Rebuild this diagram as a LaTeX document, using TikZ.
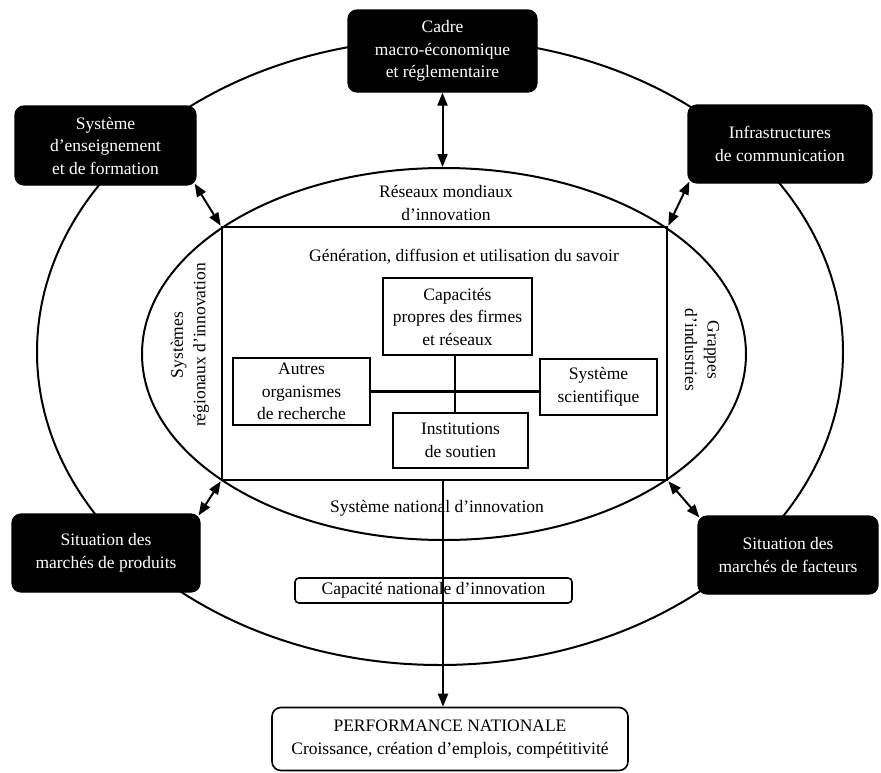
\documentclass[tikz,border=0pt]{standalone}
\usepackage{fontspec}
\setmainfont{Liberation Serif}
\usetikzlibrary{arrows.meta,shapes.geometric}
\begin{document}
\begin{tikzpicture}[x=1pt,y=-1pt,
  txt/.style={font=\fontsize{17.5}{22.5}\selectfont, align=center, inner sep=0pt},
  darkbox/.style={txt, draw=black, fill=black, text=white, rounded corners=9pt, line width=1.2pt},
  plainbox/.style={txt, draw=black, line width=2.2pt},
  ring/.style={draw=black, ellipse, line width=2pt, inner sep=0pt},
  dbl/.style={line width=2pt, {Triangle[length=13pt,width=10pt]}-{Triangle[length=13pt,width=10pt]}},
  one/.style={line width=2pt, -{Triangle[length=13pt,width=10pt]}}
]
\useasboundingbox (0,0) rectangle (881,772);

% the two rings: national capacity (outer) and national system (inner)
\node[ring, minimum width=806pt, minimum height=626pt] (outer) at (440,352) {};
\node[ring, minimum width=604pt, minimum height=372pt] (inner) at (444,354) {};

% knowledge box
\node[plainbox, line width=2.6pt, minimum width=445pt, minimum height=253pt] (sav) at (444.5,353.5) {};
\node[txt] (savt) at (464,257) {Génération, diffusion et utilisation du savoir};

% actors inside the knowledge box
\node[plainbox, minimum width=149pt, minimum height=77pt] (cap) at (457.5,316.5) {Capacités\\propres des firmes\\et réseaux};
\node[plainbox, minimum width=137pt, minimum height=67pt] (aut) at (301.5,391.5) {Autres\\organismes\\de recherche};
\node[plainbox, minimum width=117pt, minimum height=56pt] (sci) at (598.5,387) {Système\\scientifique};
\node[plainbox, minimum width=135pt, minimum height=55pt] (ins) at (460.5,440.5) {Institutions\\de soutien};

\draw[line width=2.2pt] (cap.south -| 455,0) -- (455,0 |- ins.north);
\draw[line width=2.2pt] (aut.east) -- (aut.east -| sci.west);

% labels on the inner ring
\node[txt] (rmi) at (446,203) {Réseaux mondiaux\\d’innovation};
\node[txt] (sni) at (437,508) {Système national d’innovation};
\node[txt, rotate=90] (sri) at (190,345) {Systèmes\\régionaux d’innovation};
\node[txt, rotate=-90] (gri) at (702,350) {Grappes\\d’industries};

% surrounding framework conditions
\node[darkbox, minimum width=189pt, minimum height=82pt] (top) at (442.5,51) {Cadre\\macro-économique\\et réglementaire};
\node[darkbox, minimum width=181pt, minimum height=79pt] (tl) at (105.5,145.5) {Système\\d’enseignement\\et de formation};
\node[darkbox, minimum width=184pt, minimum height=78pt] (tr) at (780,144) {Infrastructures\\de communication};
\node[darkbox, minimum width=188pt, minimum height=78pt] (bl) at (106,553) {Situation des\\marchés de produits};
\node[darkbox, minimum width=180pt, minimum height=78pt] (br) at (788,555) {Situation des\\marchés de facteurs};

% links between the framework and the system
\draw[dbl] (top.south) -- (top.south |- inner.north);
\draw[dbl] (sav.north west) -- ([shift={(-2,-2)}]tl.south east);
\draw[dbl] (sav.north east) -- ([shift={(2,-2)}]tr.south west);
\draw[dbl] (sav.south west) -- ([shift={(-2,2)}]bl.north east);
\draw[dbl] (sav.south east) -- ([shift={(2,2)}]br.north west);

% national capacity and performance
\node[plainbox, line width=1.6pt, rounded corners=4pt, minimum width=277pt, minimum height=25pt] (cni) at (433.5,590.5) {Capacité nationale d’innovation};
\node[plainbox, line width=1.6pt, rounded corners=9pt, minimum width=356pt, minimum height=63pt] (perf) at (450,739) {PERFORMANCE NATIONALE\\Croissance, création d’emplois, compétitivité};

\draw[one] (sav.south -| 443,0) -- (443,0 |- perf.north);
\end{tikzpicture}
\end{document}
